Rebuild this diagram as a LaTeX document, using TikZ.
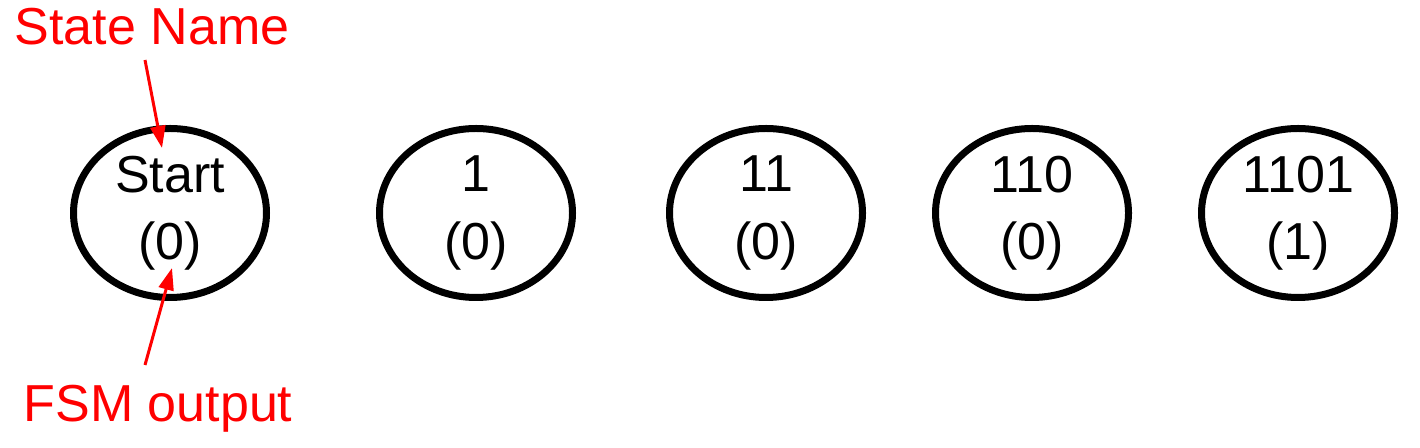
\documentclass[tikz,border=0pt]{standalone}
\usepackage{fontspec}
\setmainfont{Liberation Sans}
\usepackage{xcolor}
\usetikzlibrary{arrows, arrows.meta}
\usetikzlibrary{shapes.geometric}
\usetikzlibrary{positioning}

\tikzset{
	fsmstate/.style={draw, ellipse, line width=0.7mm, minimum width=19.3mm, minimum height=16.9mm, inner sep=0pt, align=center, font=\fontsize{14.8}{19.2}\selectfont},
	note/.style={red, font=\fontsize{14.8}{17.9}\selectfont, anchor=base},
	pointer/.style={red, line width=0.3mm, -{Triangle[length=2.2mm, width=1.5mm]}}
}

\begin{document}
\begin{tikzpicture}[x=0.1mm, y=-0.1mm]
			\useasboundingbox (0,0) rectangle (1420,448);
			%states
			\node[fsmstate] (start) at (170,213) {Start\\(0)};
			\node[fsmstate] (s1) at (476,213) {1\\(0)};
			\node[fsmstate] (s11) at (766,213) {11\\(0)};
			\node[fsmstate] (s110) at (1032,213) {110\\(0)};
			\node[fsmstate] (s1101) at (1298,213) {1101\\(1)};
			
			% add labels
			\node[note] (name) at (152,45) {State Name};
			\node[note] (output) at (158,422) {FSM output};
			\coordinate (nametail) at (145,60);
			\coordinate (nametip) at (162,148);
			\coordinate (outtail) at (145,365);
			\coordinate (outtip) at (172,268);
			\draw[pointer] (nametail) -- (nametip);
			\draw[pointer] (outtail) -- (outtip);
			
		\end{tikzpicture}
\end{document}
